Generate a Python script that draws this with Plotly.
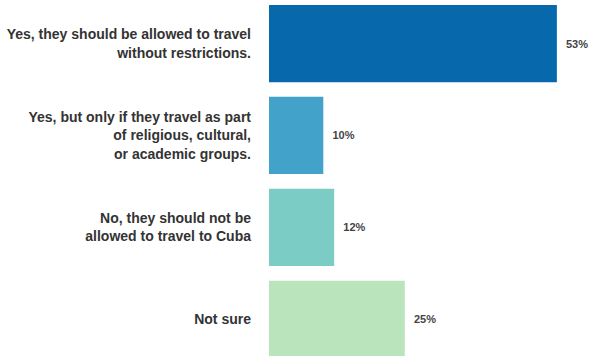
import plotly.graph_objects as go

categories = [
    "Yes, they should be allowed to travel<br>without restrictions.",
    "Yes, but only if they travel as part<br>of religious, cultural,<br>or academic groups.",
    "No, they should not be<br>allowed to travel to Cuba",
    "Not sure",
]
values = [53, 10, 12, 25]
labels = ["53%", "10%", "12%", "25%"]
colors = ["#0868ac", "#43a2ca", "#7bccc4", "#bae4bc"]

fig = go.Figure(go.Bar(
    x=values,
    y=categories,
    orientation="h",
    marker=dict(color=colors, line=dict(width=0)),
    width=0.84,
    text=["  " + t for t in labels],
    textposition="outside",
    textfont=dict(size=11, color="#444444", family="Liberation Sans, Arial, sans-serif", weight="bold"),
    cliponaxis=False,
))

fig.update_layout(
    width=590, height=356,
    margin=dict(l=269, r=0, t=0, b=0),
    paper_bgcolor="white", plot_bgcolor="white",
    showlegend=False,
    font=dict(family="Liberation Sans, Arial, sans-serif", size=14, color="#333333"),
    xaxis=dict(range=[0, 59.1], visible=False, fixedrange=True),
    yaxis=dict(
        range=[3.40, -0.474],
        showgrid=False, zeroline=False, showline=False,
        ticks="", ticklabelstandoff=17,
        tickfont=dict(size=14, color="#333333", weight="bold"),
        fixedrange=True,
    ),
    bargap=0.16,
)

fig.write_html("out.html")
